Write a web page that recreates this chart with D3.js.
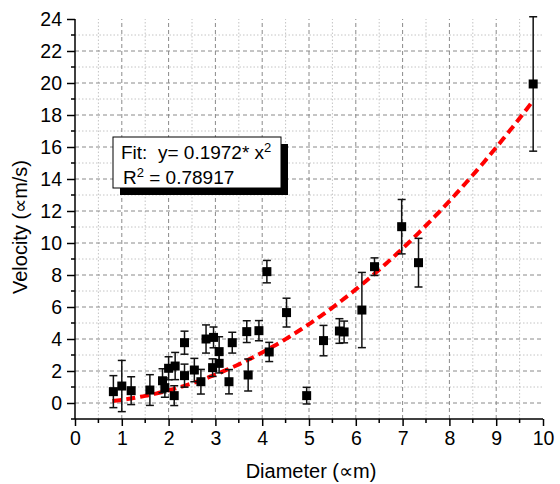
<!DOCTYPE html>
<html>
<head>
<meta charset="utf-8">
<script src="https://cdn.jsdelivr.net/npm/d3@7"></script>
<style>
  body { margin: 0; background: #fff; }
  svg { display: block; font-family: "Liberation Sans", Arial, sans-serif; }
  text { white-space: pre; }
</style>
</head>
<body>
<svg id="chart" width="560" height="484"></svg>
<script>
// ---- data ----
const diameter = [0.82, 1.0, 1.2, 1.6, 1.87, 1.92, 2.12, 2.0, 2.14, 2.34, 2.34, 2.55, 2.69, 2.8, 2.96, 3.08, 2.94, 3.08, 3.36, 3.29, 3.67, 3.70, 3.93, 4.1, 4.15, 4.52, 4.95, 5.31, 5.65, 5.75, 6.13, 6.4, 6.98, 7.34, 9.79];
const velocity = [0.71, 1.06, 0.77, 0.81, 1.39, 0.96, 0.46, 2.17, 2.31, 1.71, 3.77, 2.06, 1.33, 4.0, 4.1, 3.21, 2.21, 2.48, 3.77, 1.33, 4.46, 1.75, 4.52, 8.21, 3.19, 5.65, 0.46, 3.9, 4.5, 4.44, 5.81, 8.52, 11.02, 8.77, 19.94];
const velocityErr = [1.0, 1.6, 0.87, 0.96, 0.75, 0.6, 0.62, 0.72, 0.85, 0.72, 0.72, 0.73, 0.77, 0.88, 0.65, 0.93, 0.55, 0.6, 0.65, 0.76, 0.68, 1.0, 0.63, 0.7, 0.6, 0.9, 0.52, 0.95, 0.77, 0.68, 2.35, 0.55, 1.7, 1.52, 4.2];
const fitCoef = 0.1972;
const fitRange = [0.8, 9.8];
const xTicks = [0, 1, 2, 3, 4, 5, 6, 7, 8, 9, 10];
const yTicks = [0, 2, 4, 6, 8, 10, 12, 14, 16, 18, 20, 22, 24];
const fitLine1 = "Fit:  y= 0.1972* x";
const fitLine2 = " = 0.78917";
const xTitle = "Diameter (\u221Dm)";
const yTitle = "Velocity (\u221Dm/s)";

// ---- layout ----
const svg = d3.select("#chart");
const x = d3.scaleLinear().domain([0, 10]).range([75, 543]);
const y = d3.scaleLinear().domain([-1, 24]).range([419, 19]);

// grid
const g = svg.append("g");
const xMinor = d3.range(0.5, 10, 1);
const xMajor = d3.range(1, 10, 1);
const yMinorOdd = d3.range(1, 24, 2);
const yMajor = d3.range(0, 24, 2);

g.selectAll(".vminor").data(xMinor).enter().append("line")
  .attr("x1", d => x(d)).attr("x2", d => x(d))
  .attr("y1", y(-1)).attr("y2", y(24))
  .attr("stroke", "#c4c4c4").attr("stroke-width", 1).attr("stroke-dasharray", "1.5,2");
g.selectAll(".hminor").data(yMinorOdd).enter().append("line")
  .attr("x1", x(0)).attr("x2", x(10))
  .attr("y1", d => y(d)).attr("y2", d => y(d))
  .attr("stroke", "#c4c4c4").attr("stroke-width", 1).attr("stroke-dasharray", "1.5,2");
g.selectAll(".vmajor").data(xMajor).enter().append("line")
  .attr("x1", d => x(d)).attr("x2", d => x(d))
  .attr("y1", y(-1)).attr("y2", y(24))
  .attr("stroke", "#8a8a8a").attr("stroke-width", 1).attr("stroke-dasharray", "4,3");
g.selectAll(".hmajor").data(yMajor).enter().append("line")
  .attr("x1", x(0)).attr("x2", x(10))
  .attr("y1", d => y(d)).attr("y2", d => y(d))
  .attr("stroke", "#8a8a8a").attr("stroke-width", 1).attr("stroke-dasharray", "4,3");

// axes
const xAxis = d3.axisBottom(x).tickValues(xTicks).tickSize(7).tickPadding(5).tickFormat(d3.format("d"));
const yAxis = d3.axisLeft(y).tickValues(yTicks).tickSize(8).tickPadding(5).tickFormat(d3.format("d"));

const gx = svg.append("g").attr("transform", `translate(0,${y(-1)})`).call(xAxis);
const gy = svg.append("g").attr("transform", `translate(${x(0)},0)`).call(yAxis);

[gx, gy].forEach(a => {
  a.attr("font-size", null).attr("font-family", null);
  a.select(".domain").attr("stroke", "#000").attr("stroke-width", 1.5);
  a.selectAll(".tick line").attr("stroke", "#000").attr("stroke-width", 1.5);
  a.selectAll(".tick text").attr("fill", "#000").style("font-size", "19.5px")
    .style("font-family", "'Liberation Sans', Arial, sans-serif");
});
gx.select(".domain").attr("d", `M${x(0)},0H${x(10)}`);
gy.select(".domain").attr("d", `M0,${y(-1)}V${y(24)}`);

// minor ticks
svg.append("g").selectAll("line").data(xMinor).enter().append("line")
  .attr("x1", d => x(d)).attr("x2", d => x(d))
  .attr("y1", y(-1)).attr("y2", y(-1) + 4)
  .attr("stroke", "#000").attr("stroke-width", 1.5);
svg.append("g").selectAll("line").data(d3.range(-1, 24, 2)).enter().append("line")
  .attr("x1", x(0) - 4).attr("x2", x(0))
  .attr("y1", d => y(d)).attr("y2", d => y(d))
  .attr("stroke", "#000").attr("stroke-width", 1.5);

// axis titles
svg.append("text").attr("x", (x(0) + x(10)) / 2 + 2).attr("y", 478)
  .attr("text-anchor", "middle").style("font-size", "20px").text(xTitle);
svg.append("text").attr("transform", `translate(27,${(y(-1) + y(24)) / 2 + 8}) rotate(-90)`)
  .attr("text-anchor", "middle").style("font-size", "20px").text(yTitle);

// fit curve
const fitData = d3.range(fitRange[0], fitRange[1] + 0.0001, 0.05).map(v => [v, fitCoef * v * v]);
svg.append("path").datum(fitData)
  .attr("fill", "none").attr("stroke", "#ff0000").attr("stroke-width", 4)
  .attr("stroke-dasharray", "9,5")
  .attr("d", d3.line().x(d => x(d[0])).y(d => y(d[1])));

// error bars
const pts = diameter.map((d, i) => ({ x: d, y: velocity[i], e: velocityErr[i] }));
const eb = svg.append("g").attr("stroke", "#111").attr("stroke-width", 1.5);
eb.selectAll(".v").data(pts).enter().append("line")
  .attr("x1", d => x(d.x)).attr("x2", d => x(d.x))
  .attr("y1", d => y(d.y - d.e)).attr("y2", d => y(d.y + d.e));
eb.selectAll(".t").data(pts).enter().append("line")
  .attr("x1", d => x(d.x) - 4).attr("x2", d => x(d.x) + 4)
  .attr("y1", d => y(d.y + d.e)).attr("y2", d => y(d.y + d.e));
eb.selectAll(".b").data(pts).enter().append("line")
  .attr("x1", d => x(d.x) - 4).attr("x2", d => x(d.x) + 4)
  .attr("y1", d => y(d.y - d.e)).attr("y2", d => y(d.y - d.e));

// markers
svg.append("g").selectAll("rect").data(pts).enter().append("rect")
  .attr("x", d => x(d.x) - 4.5).attr("y", d => y(d.y) - 4.5)
  .attr("width", 9).attr("height", 9).attr("fill", "#000");

// fit box
const bx = 113, by = 137, bw = 168, bh = 51;
svg.append("rect").attr("x", bx + 7).attr("y", by + 7).attr("width", bw).attr("height", bh).attr("fill", "#000");
svg.append("rect").attr("x", bx).attr("y", by).attr("width", bw).attr("height", bh)
  .attr("fill", "#fff").attr("stroke", "#000").attr("stroke-width", 1);
const t1 = svg.append("text").attr("x", bx + 8).attr("y", by + 22).style("font-size", "19px");
t1.append("tspan").text(fitLine1);
t1.append("tspan").attr("dy", -7).style("font-size", "13px").text("2");
const t2 = svg.append("text").attr("x", bx + 10).attr("y", by + 47).style("font-size", "19px");
t2.append("tspan").text("R");
t2.append("tspan").attr("dy", -7).style("font-size", "13px").text("2");
t2.append("tspan").attr("dy", 7).text(fitLine2);
</script>
</body>
</html>
